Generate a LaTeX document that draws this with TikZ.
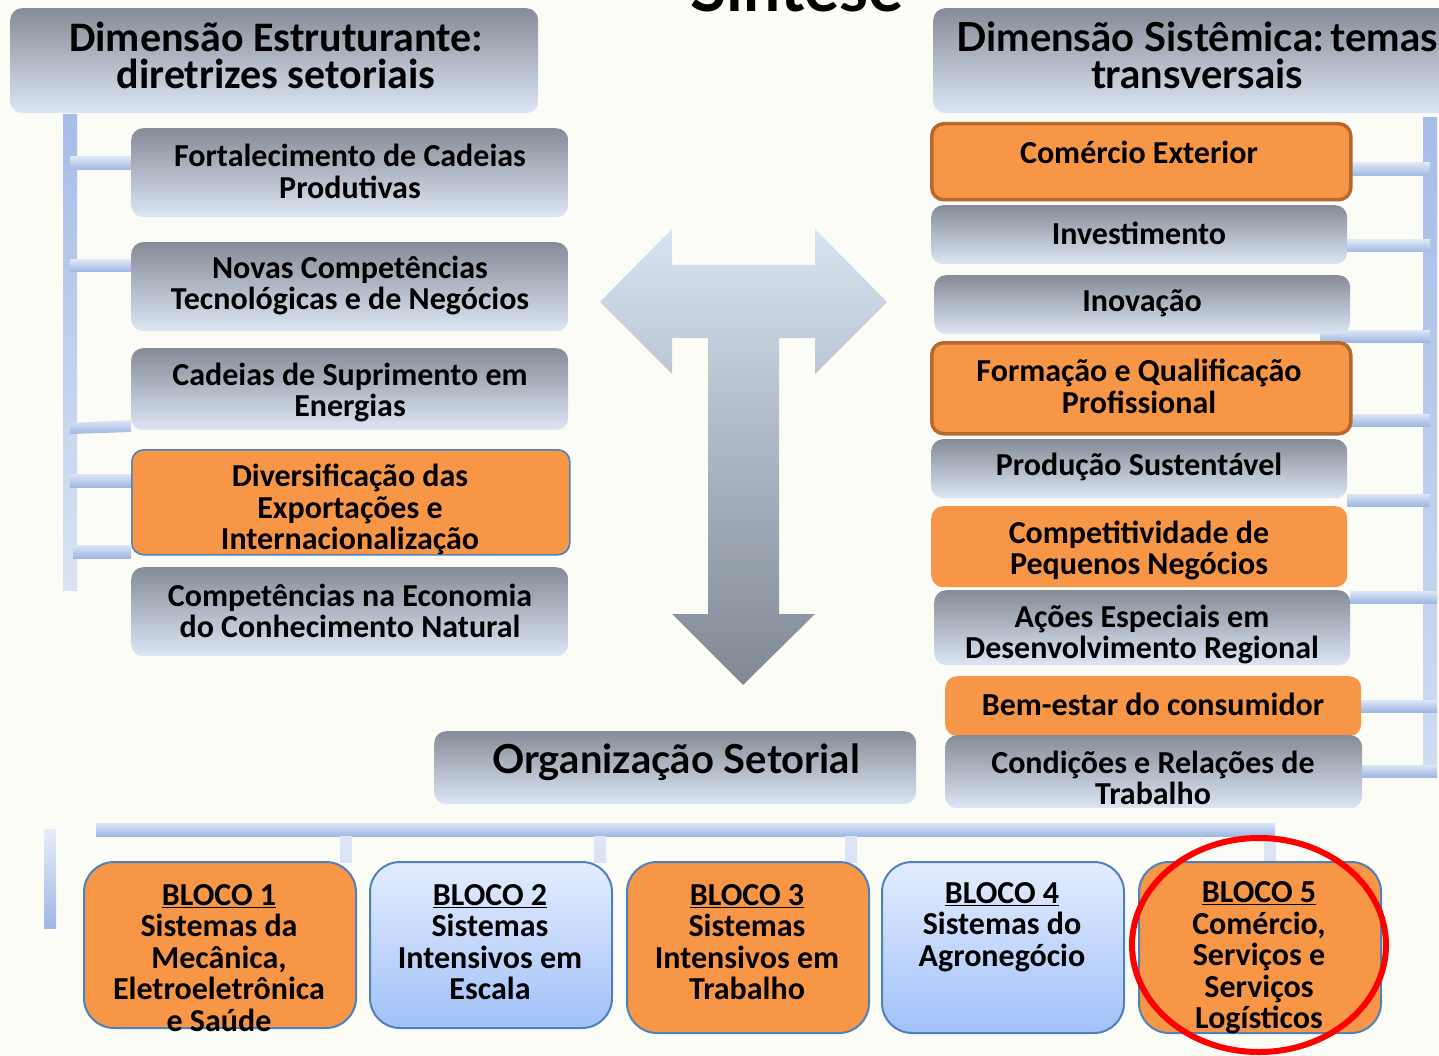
\documentclass[tikz,border=0pt]{standalone}
\usepackage{fontspec}
\setmainfont{Carlito}
\newfontfamily\gillfont{Lato}
\usetikzlibrary{calc}
\definecolor{bgc}{HTML}{FCFCF7}
\definecolor{gtop}{HTML}{858C97}
\definecolor{gbot}{HTML}{DCE6F4}
\definecolor{orng}{HTML}{F79646}
\definecolor{brwn}{HTML}{B5692F}
\definecolor{bbord}{HTML}{4F81BD}
\definecolor{btop}{HTML}{E4EDFE}
\definecolor{bbot}{HTML}{A1C1F8}
\definecolor{barA}{HTML}{A6BDE6}
\definecolor{barB}{HTML}{DAE3F3}
\definecolor{brlight}{HTML}{DDE6F5}
\definecolor{brdark}{HTML}{9EB7E3}
\definecolor{arrtop}{HTML}{D8E3F1}
\definecolor{arrbot}{HTML}{7F8893}
\tikzset{
  box/.style={rounded corners=12pt, inner sep=0pt, anchor=north west},
  graybox/.style={box, top color=gtop, bottom color=gbot},
  orangebox/.style={box, fill=orng},
  brownbox/.style={box, fill=orng, draw=brwn, line width=3.5pt},
  blueedge/.style={box, fill=orng, draw=bbord, line width=1.6pt},
  blocko/.style={box, rounded corners=30pt, fill=orng, draw=bbord, line width=2pt},
  blockb/.style={box, rounded corners=30pt, top color=btop, bottom color=bbot, draw=bbord, line width=2pt},
  txt/.style={font=\bfseries\fontsize{32}{31.5}\selectfont, align=center, inner sep=0pt, text=black},
  hbr/.style={top color=brlight, bottom color=brdark},
  vbr/.style={top color=barA, bottom color=barB},
}
\begin{document}
\begin{tikzpicture}[x=1pt, y=-1pt]
\useasboundingbox (0,0) rectangle (1439,1056);
\fill[bgc] (0,0) rectangle (1439,1056);

% title
\node[font=\gillfont\bfseries\fontsize{66}{66}\selectfont, anchor=base, inner sep=0pt] (title) at (797,12) {Síntese};

% ---------- connectors (bars) ----------
% left vertical bar and branches
\shade[vbr] (63,115) rectangle (77,590);
\shade[hbr] (70,157) rectangle (131,170);
\shade[hbr] (70,260) rectangle (131,272);
\shade[hbr] (70,423) -- (131,420) -- (131,432) -- (70,434) -- cycle;
\shade[hbr] (70,474) rectangle (131,487);
\shade[hbr] (73,545) rectangle (131,558);
% right vertical bar and branches
\shade[top color=barA, bottom color=barB!80!barA] (1423,118) rectangle (1437,772);
\shade[hbr] (1349,163) rectangle (1430,176);
\shade[hbr] (1347,240) rectangle (1430,252);
\shade[hbr] (1320,330) rectangle (1430,342);
\shade[hbr] (1349,414) rectangle (1430,426);
\shade[hbr] (1347,494) rectangle (1430,506);
\shade[hbr] (1350,591) rectangle (1437,603);
\shade[hbr] (1361,700) rectangle (1437,712);
\shade[hbr] (1362,765) rectangle (1437,777);
% bottom bar and drops
\shade[hbr] (96,823) rectangle (1275,836);
\shade[top color=brlight, bottom color=barB] (340,836) rectangle (352,862);
\shade[top color=brlight, bottom color=barB] (594,836) rectangle (606,862);
\shade[top color=brlight, bottom color=barB] (845,836) rectangle (857,862);
\shade[top color=brlight, bottom color=barB] (1264,836) rectangle (1276,862);
\shade[top color=brlight!70!white, bottom color=brdark] (44,829) rectangle (56,928);

% ---------- central arrow ----------
\shade[top color=arrtop, bottom color=arrbot]
  (600,302) -- (672,229) -- (672,265) -- (815,265) -- (815,229) -- (887,302)
  -- (815,374) -- (815,338) -- (779,338) -- (779,614) -- (815,614) -- (743,685)
  -- (672,614) -- (708,614) -- (708,338) -- (672,338) -- (672,374) -- cycle;

% ---------- left column ----------
\node[graybox, minimum width=528pt, minimum height=105pt] (L0) at (10,8) {};
\node[txt, font=\bfseries\fontsize{42}{37}\selectfont] (L0t) at (276,55) {Dimensão Estruturante:\\diretrizes setoriais};

\node[graybox, minimum width=437pt, minimum height=89pt] (L1) at (131,128) {};
\node[txt] (L1t) at (350,171.5) {Fortalecimento de Cadeias\\Produtivas};

\node[graybox, minimum width=437pt, minimum height=89pt] (L2) at (131,242) {};
\node[txt] (L2t) at (350,285.5) {Novas Competências\\Tecnológicas e de Negócios};

\node[graybox, minimum width=437pt, minimum height=82pt] (L3) at (131,348) {};
\node[txt] (L3t) at (350,392.5) {Cadeias de Suprimento em\\Energias};

\node[blueedge, minimum width=438pt, minimum height=105pt] (L4) at (131,449) {};
\node[txt] (L4t) at (350,509.5) {Diversificação das\\Exportações e\\Internacionalização};

\node[graybox, minimum width=437pt, minimum height=89pt] (L5) at (131,567) {};
\node[txt] (L5t) at (350,611) {Competências na Economia\\do Conhecimento Natural};

% ---------- right column ----------
\node[graybox, minimum width=530pt, minimum height=105pt] (R0) at (933,8) {};
\node[txt, font=\gillfont\bfseries\fontsize{40}{37}\selectfont] (R0t) at (1197,55) {Dimensão Sistêmica:\,temas\\transversais};

\node[brownbox, minimum width=419pt, minimum height=76pt] (R1) at (930,122) {};
\node[txt] (R1t) at (1139,152) {Comércio Exterior};

\node[graybox, minimum width=416pt, minimum height=59pt] (R2) at (931,205) {};
\node[txt] (R2t) at (1139,233) {Investimento};

\node[graybox, minimum width=416pt, minimum height=59pt] (R3) at (934,275) {};
\node[txt] (R3t) at (1142,303) {Inovação};

\node[brownbox, minimum width=419pt, minimum height=91pt] (R4) at (930,341) {};
\node[txt] (R4t) at (1139,386.5) {Formação e Qualificação\\Profissional};

\node[graybox, minimum width=416pt, minimum height=59pt] (R5) at (931,439) {};
\node[txt] (R5t) at (1139,467) {Produção Sustentável};

\node[orangebox, minimum width=416pt, minimum height=81pt] (R6) at (931,506) {};
\node[txt] (R6t) at (1139,550.5) {Competitividade de\\Pequenos Negócios};

\node[graybox, minimum width=416pt, minimum height=75pt] (R7) at (934,590) {};
\node[txt] (R7t) at (1142,634.5) {Ações Especiais em\\Desenvolvimento Regional};

\node[orangebox, minimum width=416pt, minimum height=60pt] (R8) at (945,676) {};
\node[txt] (R8t) at (1153,704) {Bem-estar do consumidor};

\node[graybox, minimum width=417pt, minimum height=73pt] (R9) at (945,735) {};
\node[txt] (R9t) at (1153,778) {Condições e Relações de\\Trabalho};

% ---------- organisation ----------
\node[graybox, minimum width=482pt, minimum height=73pt] (OS) at (434,731) {};
\node[txt, font=\gillfont\bfseries\fontsize{40}{40}\selectfont] (OSt) at (676,762) {Organização Setorial};

% ---------- blocks ----------
\node[blocko, minimum width=272pt, minimum height=166pt] (B1) at (83,861) {};
\node[txt] (B1t) at (219,958) {\underline{BLOCO 1}\\Sistemas da\\Mecânica,\\Eletroeletrônica\\e Saúde};

\node[blockb, minimum width=242pt, minimum height=166pt] (B2) at (369,861) {};
\node[txt] (B2t) at (490,942) {\underline{BLOCO 2}\\Sistemas\\Intensivos em\\Escala};

\node[blocko, minimum width=242pt, minimum height=171pt] (B3) at (626,861) {};
\node[txt] (B3t) at (747,942) {\underline{BLOCO 3}\\Sistemas\\Intensivos em\\Trabalho};

\node[blockb, minimum width=242pt, minimum height=171pt] (B4) at (881,861) {};
\node[txt] (B4t) at (1002,927) {\underline{BLOCO 4}\\Sistemas do\\Agronegócio};

\node[blocko, minimum width=242pt, minimum height=171pt] (B5) at (1138,861) {};
\node[txt] (B5t) at (1259,958) {\underline{BLOCO 5}\\Comércio,\\Serviços e\\Serviços\\Logísticos};

% red highlight ellipse
\draw[red, line width=6pt] (1259,945) ellipse [x radius=127, y radius=107];
\end{tikzpicture}
\end{document}
